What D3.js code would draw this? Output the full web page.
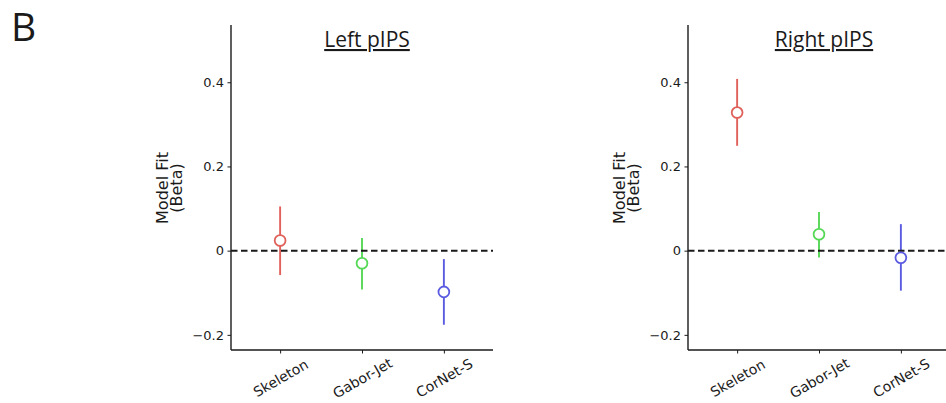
<!DOCTYPE html>
<html>
<head>
<meta charset="utf-8">
<script src="https://cdn.jsdelivr.net/npm/d3@7"></script>
<style>
  body { margin: 0; background: #fff; }
  svg { display: block; }
</style>
</head>
<body>
<svg id="chart" width="946" height="403"></svg>
<script>
// model names, shared by both panels
const models = ["Skeleton", "Gabor-Jet", "CorNet-S"];
const modelColors = ["#e0605a", "#55d855", "#5b5be2"];

// panel titles
const regions = ["Left pIPS", "Right pIPS"];

// beta means and error bar ends
const leftMean = [0.024, -0.030, -0.098];
const leftLow  = [-0.058, -0.092, -0.176];
const leftHigh = [0.105, 0.030, -0.020];

const rightMean = [0.328, 0.039, -0.017];
const rightLow  = [0.249, -0.016, -0.095];
const rightHigh = [0.408, 0.092, 0.063];

const yTicks = [-0.2, 0, 0.2, 0.4];

const panelData = [
  {mean: leftMean, low: leftLow, high: leftHigh},
  {mean: rightMean, low: rightLow, high: rightHigh}
];

const svg = d3.select("#chart");
const ink = "#1a1a1a";
const panelW = 262, plotTop = 25, plotBottom = 350;
const panelLeft = [231, 688];

// panel letter
svg.append("text")
  .attr("x", 11).attr("y", 41)
  .style("font-family", "Open Sans, sans-serif")
  .style("font-size", "39px")
  .attr("fill", ink)
  .text("B");

const y = d3.scaleLinear().domain([-0.236, 0.536]).range([plotBottom, plotTop]);
const x = d3.scalePoint().domain(models).range([0, panelW]).padding(0.6);
const color = d3.scaleOrdinal().domain(models).range(modelColors);

panelData.forEach(function(p, i) {
  const g = svg.append("g").attr("transform", "translate(" + panelLeft[i] + ",0)");

  const rows = models.map((m, j) => ({model: m, mean: p.mean[j], low: p.low[j], high: p.high[j]}));

  // y axis
  const yAxis = g.append("g")
    .call(d3.axisLeft(y).tickValues(yTicks).tickSize(3.5).tickPadding(3.5).tickSizeOuter(0)
      .tickFormat(d => d === 0 ? "0" : d3.format(".1f")(d)));
  yAxis.select(".domain").remove();
  yAxis.selectAll("text")
    .style("font-family", "DejaVu Sans, sans-serif")
    .style("font-size", "13px")
    .attr("fill", ink);
  yAxis.selectAll("line").attr("stroke", ink).attr("stroke-width", 1);

  // x axis
  const xAxis = g.append("g")
    .attr("transform", "translate(0," + plotBottom + ")")
    .call(d3.axisBottom(x).tickSize(3.5).tickSizeOuter(0));
  xAxis.select(".domain").remove();
  xAxis.selectAll("line").attr("stroke", ink).attr("stroke-width", 1);
  xAxis.selectAll("text")
    .attr("y", 0).attr("dy", null)
    .attr("text-anchor", "middle")
    .attr("dominant-baseline", "central")
    .attr("transform", "translate(0,28) rotate(-30)")
    .style("font-family", "DejaVu Sans, sans-serif")
    .style("font-size", "14px")
    .attr("fill", ink);

  // spines
  g.append("line").attr("x1", 0).attr("x2", 0).attr("y1", plotTop).attr("y2", plotBottom)
    .attr("stroke", ink).attr("stroke-width", 1.4);
  g.append("line").attr("x1", 0).attr("x2", panelW).attr("y1", plotBottom).attr("y2", plotBottom)
    .attr("stroke", ink).attr("stroke-width", 1.4);

  // y label
  const lab = g.append("text")
    .attr("transform", "translate(-63,188) rotate(-90)")
    .attr("text-anchor", "middle")
    .style("font-family", "DejaVu Sans, sans-serif")
    .style("font-size", "16px")
    .attr("fill", ink);
  lab.append("tspan").attr("x", 0).attr("dy", "0").text("Model Fit");
  lab.append("tspan").attr("x", 0).attr("dy", "14").text("(Beta)");

  // title
  g.append("text")
    .attr("x", panelW / 2 + 5).attr("y", 47)
    .attr("text-anchor", "middle")
    .style("font-family", "Open Sans, sans-serif")
    .style("font-size", "21px")
    .style("text-decoration", "underline")
    .attr("fill", ink)
    .text(regions[i]);

  // error bars
  g.selectAll(".err").data(rows).enter().append("line")
    .attr("class", "err")
    .attr("x1", d => x(d.model)).attr("x2", d => x(d.model))
    .attr("y1", d => y(d.low)).attr("y2", d => y(d.high))
    .attr("stroke", d => color(d.model))
    .attr("stroke-width", 1.9);

  // zero line
  g.append("line")
    .attr("x1", 0).attr("x2", panelW)
    .attr("y1", y(0)).attr("y2", y(0))
    .attr("stroke", ink)
    .attr("stroke-width", 2)
    .attr("stroke-dasharray", "6.5,3.5");

  // means
  g.selectAll(".pt").data(rows).enter().append("circle")
    .attr("class", "pt")
    .attr("cx", d => x(d.model))
    .attr("cy", d => y(d.mean))
    .attr("r", 5.4)
    .attr("fill", "#fff")
    .attr("stroke", d => color(d.model))
    .attr("stroke-width", 1.8);
});
</script>
</body>
</html>
